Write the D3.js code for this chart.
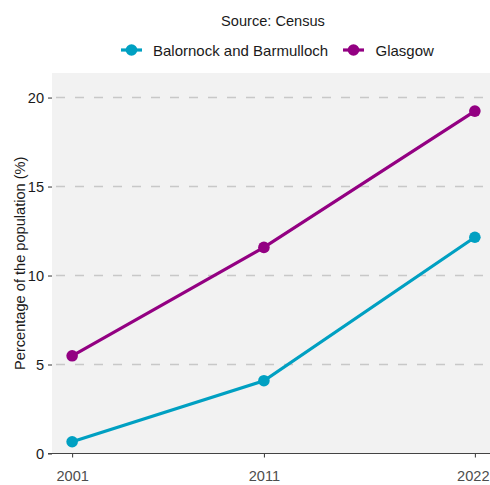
<!DOCTYPE html>
<html>
<head>
<meta charset="utf-8">
<script src="https://cdn.jsdelivr.net/npm/d3@7"></script>
<style>
  body { margin: 0; background: #fff; }
  svg { display: block; font-family: "Liberation Sans", Arial, sans-serif; }
</style>
</head>
<body>
<svg id="chart" width="490" height="485"></svg>
<script>
const years = [2001, 2011, 2022];
const seriesNames = ["Balornock and Barmulloch", "Glasgow"];
const balornock = [0.66, 4.09, 12.15];
const glasgow = [5.49, 11.58, 19.24];
const yTicks = [0, 5, 10, 15, 20];
const colors = ["#00A0C2", "#930082"];
const sourceTitle = "Source: Census";
const yTitle = "Percentage of the population (%)";

const series = [
  { name: seriesNames[0], values: balornock, color: colors[0] },
  { name: seriesNames[1], values: glasgow, color: colors[1] }
];

const FS = 14.6;
const svg = d3.select("#chart");
const panel = { left: 52, right: 495, top: 73, bottom: 453.5 };

const x = d3.scaleLinear().domain([2001 - 1.05, 2022 + 1.05]).range([panel.left, panel.right]);
const y = d3.scaleLinear().domain([0, 21.38]).range([panel.bottom, panel.top]);

svg.append("rect")
  .attr("x", panel.left).attr("y", panel.top)
  .attr("width", panel.right - panel.left).attr("height", panel.bottom - panel.top)
  .attr("fill", "#f2f2f2");

// gridlines
svg.append("g").selectAll("line").data(yTicks.filter(d => d > 0)).join("line")
  .attr("x1", panel.left).attr("x2", panel.right)
  .attr("y1", d => y(d)).attr("y2", d => y(d))
  .attr("stroke", "#c8c8c8").attr("stroke-width", 1.6)
  .attr("stroke-dasharray", "9,10").attr("stroke-dashoffset", -4);

// y axis
const yAxis = d3.axisLeft(y).tickValues(yTicks).tickSize(4).tickPadding(4).tickFormat(d3.format("d"));
const gy = svg.append("g").attr("transform", `translate(${panel.left},0)`).call(yAxis);
gy.select(".domain").remove();
gy.selectAll(".tick line").attr("stroke", "#333").attr("stroke-width", 1);
gy.selectAll(".tick text").attr("font-size", FS).attr("fill", "#1a1a1a").attr("font-family", "Liberation Sans, Arial, sans-serif");

// x axis
const xAxis = d3.axisBottom(x).tickValues(years).tickSize(4).tickPadding(13).tickFormat(d3.format("d"));
const gx = svg.append("g").attr("transform", `translate(0,${panel.bottom})`).call(xAxis);
gx.select(".domain").remove();
gx.selectAll(".tick line").attr("stroke", "#333").attr("stroke-width", 1);
gx.selectAll(".tick text").attr("font-size", FS).attr("fill", "#4d4d4d").attr("font-family", "Liberation Sans, Arial, sans-serif");
// keep the last label inside the page edge
gx.selectAll(".tick text").filter(d => d === years[years.length - 1])
  .attr("text-anchor", "end").attr("x", 489 - x(years[years.length - 1]));

// baseline
svg.append("line")
  .attr("x1", panel.left - 4).attr("x2", panel.right)
  .attr("y1", y(0)).attr("y2", y(0))
  .attr("stroke", "#444").attr("stroke-width", 1.2);

// lines and points
const line = d3.line().x((d, i) => x(years[i])).y(d => y(d));
series.forEach(s => {
  svg.append("path").datum(s.values)
    .attr("d", line).attr("fill", "none")
    .attr("stroke", s.color).attr("stroke-width", 3.2);
  svg.append("g").selectAll("circle").data(s.values).join("circle")
    .attr("cx", (d, i) => x(years[i])).attr("cy", d => y(d))
    .attr("r", 5.8).attr("fill", s.color);
});

// y title
svg.append("text")
  .attr("transform", `translate(25,${(panel.top + panel.bottom) / 2}) rotate(-90)`)
  .attr("text-anchor", "middle").attr("font-size", FS).attr("fill", "#1a1a1a")
  .text(yTitle);

// title
svg.append("text").attr("x", 273).attr("y", 26).attr("text-anchor", "middle")
  .attr("font-size", FS).attr("fill", "#1a1a1a").text(sourceTitle);

// legend
const legendItems = [
  { x: 121, textX: 153 },
  { x: 343, textX: 375.5 }
];
series.forEach((s, i) => {
  const li = legendItems[i];
  const g = svg.append("g");
  g.append("line").attr("x1", li.x).attr("x2", li.x + 21).attr("y1", 50).attr("y2", 50)
    .attr("stroke", s.color).attr("stroke-width", 3.2);
  g.append("circle").attr("cx", li.x + 10.5).attr("cy", 50).attr("r", 5.8).attr("fill", s.color);
  g.append("text").attr("x", li.textX).attr("y", 55.5).attr("font-size", 15).attr("fill", "#1a1a1a").text(s.name);
});
</script>
</body>
</html>
